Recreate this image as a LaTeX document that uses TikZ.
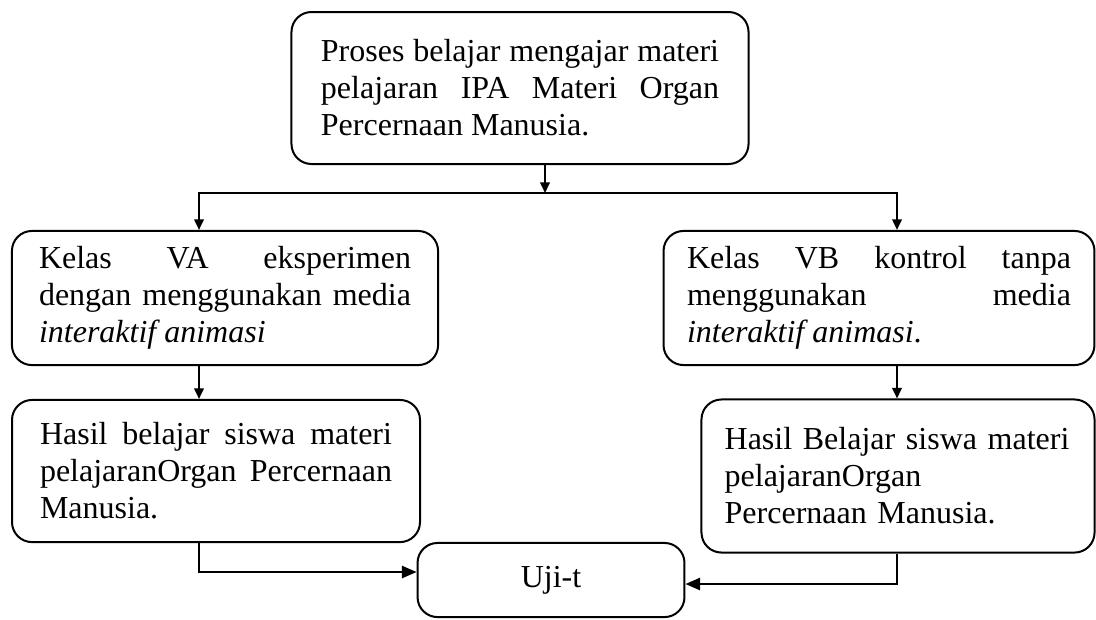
\documentclass[tikz,border=0pt]{standalone}
\usepackage{fontspec}
\setmainfont{Liberation Serif}
\usetikzlibrary{arrows.meta,positioning}

\begin{document}
\begin{tikzpicture}[x=0.375pt,y=-0.375pt,line width=0.75pt,
  >={Triangle[length=4pt,width=3.6pt]},
  big tip/.style={-{Triangle[length=5.5pt,width=4.6pt]}},
  box/.style={draw, rounded corners=7.5pt, align=justify,
    font=\fontsize{12}{13.9}\selectfont}]
\useasboundingbox (0,0) rectangle (1096,619);

\node[box, minimum width=171.4pt, minimum height=57pt, text width=149.3pt] (proses) at (520,88)
  {Proses belajar mengajar materi\linebreak pelajaran IPA Materi Organ\linebreak Percernaan Manusia.};
\node[box, minimum width=159.8pt, minimum height=50.3pt, text width=139.5pt] (kelas_a) at (225,298)
  {Kelas VA eksperimen\linebreak dengan menggunakan media\linebreak \textit{interaktif animasi}};
\node[box, minimum width=161.6pt, minimum height=50.3pt, text width=144pt] (kelas_b) at (879,298)
  {Kelas VB kontrol tanpa\linebreak menggunakan media\linebreak \textit{interaktif animasi}.};
\node[box, minimum width=153pt, minimum height=53.3pt, text width=132pt] (hasil_a) at (216,471)
  {Hasil belajar siswa materi\linebreak pelajaranOrgan Percernaan\linebreak Manusia.};
\node[box, align=left, minimum width=147.4pt, minimum height=57.4pt, text width=130pt] (hasil_b) at (898,476)
  {Hasil Belajar siswa materi\\ pelajaranOrgan\\ Percernaan Manusia.};
\node[box, align=center, minimum width=100.1pt, minimum height=27.8pt] (uji) at (551,580) {Uji-t};

\coordinate (split) at (545,193);
\coordinate (j_a) at (199,193);
\coordinate (j_b) at (897,193);
\coordinate (in_a) at (418,572);
\coordinate (in_b) at (685,584);

\draw[->] (proses.south -| split) -- (split);
\draw[->] (split) -- (j_a) -- (j_a |- kelas_a.north);
\draw[->] (split) -- (j_b) -- (j_b |- kelas_b.north);
\draw[->] (kelas_a.south -| j_a) -- (j_a |- hasil_a.north);
\draw[->] (kelas_b.south -| j_b) -- (j_b |- hasil_b.north);
\draw[big tip] (hasil_a.south -| j_a) |- (uji.west |- in_a);
\draw[big tip] (hasil_b.south -| j_b) |- (uji.east |- in_b);
\end{tikzpicture}
\end{document}
